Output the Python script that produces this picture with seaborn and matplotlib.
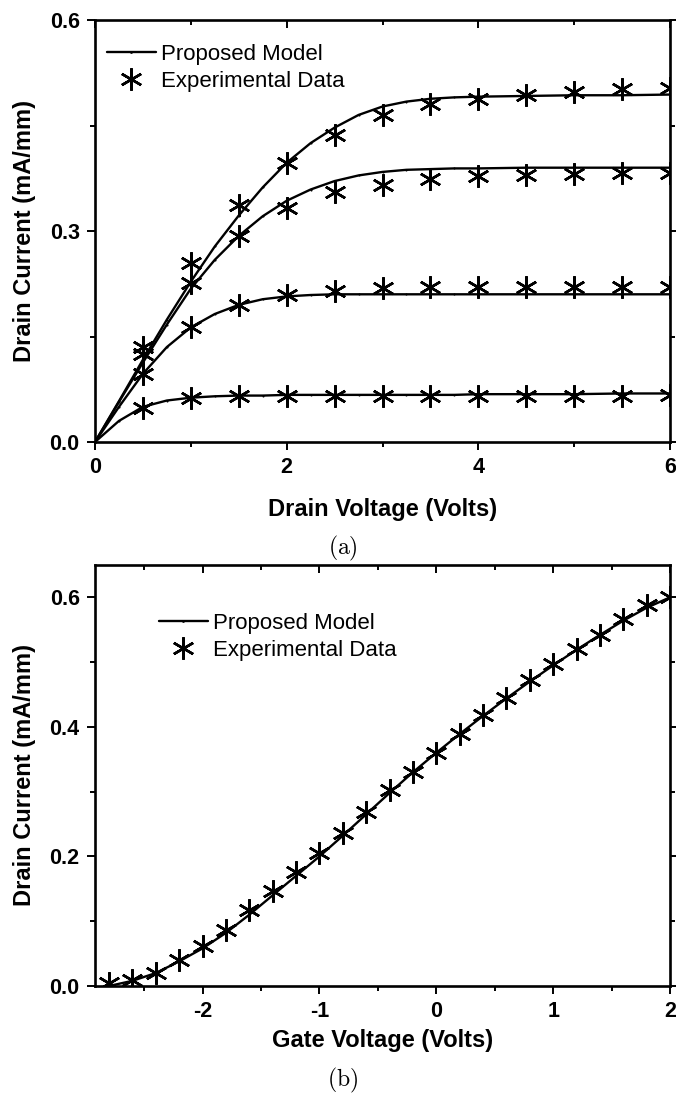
import numpy as np
import pandas as pd
import matplotlib
matplotlib.use("Agg")
import matplotlib.pyplot as plt
from matplotlib.lines import Line2D
from matplotlib.ticker import MultipleLocator, FormatStrFormatter
import seaborn as sns

# ---------------- (a) output characteristics ----------------
vd_model = [0.0, 0.25, 0.5, 0.75, 1.0, 1.25, 1.5, 1.75, 2.0, 2.25, 2.5, 2.75, 3.0,
            3.25, 3.5, 3.75, 4.0, 4.5, 5.0, 5.5, 6.0]
id_model_1 = [0.0, 0.030, 0.050, 0.059, 0.063, 0.065, 0.066, 0.066, 0.067, 0.067, 0.067, 0.067, 0.067,
              0.067, 0.067, 0.067, 0.068, 0.068, 0.068, 0.069, 0.069]
id_model_2 = [0.0, 0.050, 0.097, 0.135, 0.163, 0.182, 0.195, 0.203, 0.207, 0.209, 0.210, 0.210, 0.210,
              0.210, 0.210, 0.210, 0.210, 0.210, 0.210, 0.210, 0.210]
id_model_3 = [0.0, 0.057, 0.113, 0.167, 0.218, 0.259, 0.293, 0.321, 0.343, 0.359, 0.371, 0.379, 0.384,
              0.387, 0.388, 0.389, 0.389, 0.390, 0.390, 0.390, 0.390]
id_model_4 = [0.0, 0.058, 0.117, 0.174, 0.228, 0.278, 0.322, 0.362, 0.397, 0.425, 0.447, 0.465, 0.477,
              0.484, 0.488, 0.490, 0.491, 0.492, 0.493, 0.493, 0.494]

vd_exp = [0.5, 1.0, 1.5, 2.0, 2.5, 3.0, 3.5, 4.0, 4.5, 5.0, 5.5, 6.0]
id_exp_1 = [0.049, 0.062, 0.066, 0.066, 0.066, 0.066, 0.066, 0.066, 0.066, 0.066, 0.066, 0.067]
id_exp_2 = [0.097, 0.163, 0.195, 0.209, 0.215, 0.219, 0.220, 0.221, 0.221, 0.221, 0.221, 0.221]
id_exp_3 = [0.125, 0.226, 0.293, 0.333, 0.355, 0.366, 0.374, 0.378, 0.380, 0.381, 0.382, 0.383]
id_exp_4 = [0.135, 0.254, 0.337, 0.397, 0.437, 0.465, 0.481, 0.487, 0.494, 0.498, 0.502, 0.503]

# ---------------- (b) transfer characteristics ----------------
vg = [-2.8, -2.6, -2.4, -2.2, -2.0, -1.8, -1.6, -1.4, -1.2, -1.0, -0.8, -0.6, -0.4,
      -0.2, 0.0, 0.2, 0.4, 0.6, 0.8, 1.0, 1.2, 1.4, 1.6, 1.8, 2.0]
id_vg_model = [0.000, 0.008, 0.020, 0.038, 0.058, 0.082, 0.110, 0.140, 0.170, 0.200, 0.232, 0.265, 0.298,
               0.330, 0.360, 0.389, 0.417, 0.444, 0.470, 0.495, 0.519, 0.542, 0.564, 0.584, 0.600]
id_vg_exp = [0.005, 0.010, 0.020, 0.040, 0.062, 0.086, 0.117, 0.146, 0.176, 0.206, 0.236, 0.268, 0.303,
             0.330, 0.360, 0.389, 0.418, 0.445, 0.472, 0.497, 0.520, 0.542, 0.566, 0.589, 0.600]

legend_labels = ["Proposed Model", "Experimental Data"]

sns.set_theme(style="ticks")
plt.rcParams["font.family"] = ["Liberation Sans", "DejaVu Sans"]
plt.rcParams["mathtext.fontset"] = "cm"
plt.rcParams["axes.unicode_minus"] = False
for key in ("text.color", "axes.labelcolor", "xtick.color", "ytick.color",
            "xtick.labelcolor", "ytick.labelcolor", "legend.labelcolor"):
    plt.rcParams[key] = "black"

model_a = pd.DataFrame({
    "Vd": vd_model * 4,
    "Id": id_model_1 + id_model_2 + id_model_3 + id_model_4,
    "curve": np.repeat([1, 2, 3, 4], len(vd_model)),
})
exp_a = pd.DataFrame({
    "Vd": vd_exp * 4,
    "Id": id_exp_1 + id_exp_2 + id_exp_3 + id_exp_4,
    "curve": np.repeat([1, 2, 3, 4], len(vd_exp)),
})
df_b = pd.DataFrame({"Vg": vg, "model": id_vg_model, "exp": id_vg_exp})

STAR = (6, 2, 0)
STAR_SIZE = 16
STAR_EW = 1.8
LW_SPINE = 1.9
TICK_FS = 15.5
LABEL_FS = 17
LEGEND_FS = 16

fig = plt.figure(figsize=(6.76, 11.02), dpi=100)
ax1 = fig.add_axes([95 / 676, 1 - 442 / 1102, 575 / 676, 422 / 1102])
ax2 = fig.add_axes([95 / 676, 1 - 986 / 1102, 575 / 676, 421 / 1102])


def style_axes(ax):
    for s in ax.spines.values():
        s.set_linewidth(LW_SPINE)
        s.set_color("black")
    ax.tick_params(axis="both", which="both", top=True, right=True, color="black",
                   labelcolor="black", width=1.4, labelsize=TICK_FS, pad=5)
    ax.tick_params(axis="both", which="major", length=6)
    ax.tick_params(axis="both", which="minor", length=3.5)
    ax.tick_params(axis="both", which="both", direction="out")
    # top and right ticks point inward
    for t in ax.xaxis.get_major_ticks() + ax.xaxis.get_minor_ticks():
        t.tick2line.set_marker(3)
    for t in ax.yaxis.get_major_ticks() + ax.yaxis.get_minor_ticks():
        t.tick2line.set_marker(1)
    for lbl in ax.get_xticklabels() + ax.get_yticklabels():
        lbl.set_fontweight("bold")
    ax.grid(False)


# ---- panel (a)
sns.lineplot(data=model_a, x="Vd", y="Id", units="curve", estimator=None, color="black",
             linewidth=1.7, marker="o", markersize=1.5, markeredgewidth=0, ax=ax1, legend=False)
sns.lineplot(data=exp_a, x="Vd", y="Id", units="curve", estimator=None, color="black",
             linestyle="", marker=STAR, markersize=STAR_SIZE, markeredgewidth=STAR_EW,
             markeredgecolor="black", ax=ax1, legend=False)
ax1.set_xlim(0, 6)
ax1.set_ylim(0, 0.6)
ax1.xaxis.set_major_locator(MultipleLocator(2))
ax1.xaxis.set_minor_locator(MultipleLocator(1))
ax1.yaxis.set_major_locator(MultipleLocator(0.3))
ax1.yaxis.set_minor_locator(MultipleLocator(0.15))
ax1.yaxis.set_major_formatter(FormatStrFormatter("%.1f"))
ax1.set_xlabel("Drain Voltage (Volts)", fontsize=LABEL_FS, fontweight="bold", labelpad=14)
ax1.set_ylabel("Drain Current (mA/mm)", fontsize=LABEL_FS, fontweight="bold", labelpad=10)
style_axes(ax1)

# ---- panel (b)
sns.lineplot(data=df_b, x="Vg", y="model", color="black", linewidth=1.7, marker="o",
             markersize=1.5, markeredgewidth=0, ax=ax2, legend=False)
sns.lineplot(data=df_b, x="Vg", y="exp", color="black", linestyle="", marker=STAR,
             markersize=STAR_SIZE, markeredgewidth=STAR_EW, markeredgecolor="black",
             ax=ax2, legend=False)
ax2.set_xlim(-2.92, 2.0)
ax2.set_ylim(0, 0.65)
ax2.xaxis.set_major_locator(MultipleLocator(1))
ax2.xaxis.set_minor_locator(MultipleLocator(0.5))
ax2.yaxis.set_major_locator(MultipleLocator(0.2))
ax2.yaxis.set_minor_locator(MultipleLocator(0.1))
ax2.yaxis.set_major_formatter(FormatStrFormatter("%.1f"))
ax2.set_xlabel("Gate Voltage (Volts)", fontsize=LABEL_FS, fontweight="bold", labelpad=5)
ax2.set_ylabel("Drain Current (mA/mm)", fontsize=LABEL_FS, fontweight="bold", labelpad=10)
style_axes(ax2)

handles = [
    Line2D([], [], color="black", linewidth=1.7, marker="o", markersize=2, markeredgewidth=0),
    Line2D([], [], color="black", linestyle="", marker=STAR, markersize=STAR_SIZE,
           markeredgewidth=STAR_EW),
]
for ax, loc in ((ax1, (-0.01, 0.985)), (ax2, (0.08, 0.928))):
    ax.legend(handles, legend_labels, loc="upper left", bbox_to_anchor=loc, frameon=False,
              fontsize=LEGEND_FS, handlelength=2.2, handletextpad=0.25, labelspacing=0.25,
              borderaxespad=0.4)

fig.text(343 / 676, 1 - 548 / 1102, r"$\mathrm{(a)}$", ha="center", va="center", fontsize=17)
fig.text(343 / 676, 1 - 1080 / 1102, r"$\mathrm{(b)}$", ha="center", va="center", fontsize=17)

fig.savefig("out.png", dpi=100, facecolor="white")
